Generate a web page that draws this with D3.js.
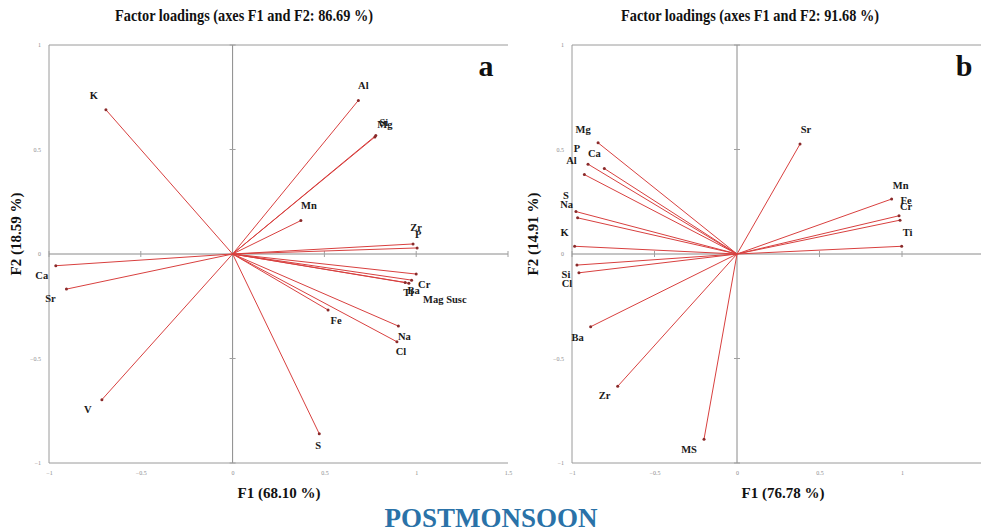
<!DOCTYPE html>
<html>
<head>
<meta charset="utf-8">
<script src="https://cdn.jsdelivr.net/npm/d3@7/dist/d3.min.js"></script>
<style>
  html, body { margin: 0; padding: 0; background: #fff; }
  svg { display: block; }
  text { font-family: "Liberation Serif", "Times New Roman", serif; }
</style>
</head>
<body>
<svg id="chart" width="981" height="532"></svg>
<script>
// ---- Data: loadings on F1 / F2 ----
const varsA = ["K", "Al", "Si", "Mg", "Mn", "Zr", "P", "Cr", "Ba", "Ti", "Mag Susc", "Fe", "Na", "Cl", "S", "Ca", "Sr", "V"];
const f1A = [-0.69, 0.685, 0.78, 0.775, 0.372, 0.983, 1.005, 1.0, 0.975, 0.94, 0.96, 0.52, 0.903, 0.895, 0.472, -0.963, -0.905, -0.712];
const f2A = [0.69, 0.735, 0.567, 0.56, 0.16, 0.048, 0.029, -0.096, -0.125, -0.136, -0.14, -0.268, -0.345, -0.42, -0.86, -0.056, -0.168, -0.697];

const varsB = ["Mg", "Ca", "P", "Al", "S", "Na", "K", "Si", "Cl", "Ba", "Zr", "MS", "Sr", "Mn", "Fe", "Cr", "Ti"];
const f1B = [-0.842, -0.804, -0.903, -0.925, -0.976, -0.966, -0.984, -0.97, -0.958, -0.887, -0.723, -0.2, 0.382, 0.937, 0.982, 0.988, 0.998];
const f2B = [0.532, 0.409, 0.43, 0.38, 0.203, 0.173, 0.037, -0.053, -0.09, -0.348, -0.633, -0.886, 0.526, 0.263, 0.183, 0.162, 0.037];

const xTicks = [-1, -0.5, 0, 0.5, 1, 1.5];
const yTicks = [-1, -0.5, 0, 0.5, 1];

const titleA = "Factor loadings (axes F1 and F2: 86.69 %)";
const titleB = "Factor loadings (axes F1 and F2: 91.68 %)";
const xTitleA = "F1 (68.10 %)", yTitleA = "F2 (18.59 %)";
const xTitleB = "F1 (76.78 %)", yTitleB = "F2 (14.91 %)";
const season = "POSTMONSOON";

// ---- Label offsets (pixels from the arrow tip) ----
const offA = {
  "K": [-12, -14], "Al": [5, -15], "Si": [8, -13], "Mg": [10, -12], "Mn": [8, -15],
  "Zr": [3, -16], "P": [1, -13], "Cr": [8, 10], "Ba": [2, 10], "Ti": [3, 10],
  "Mag Susc": [36, 16], "Fe": [8, 10], "Na": [6, 10], "Cl": [4, 10], "S": [-1, 12],
  "Ca": [-14, 10], "Sr": [-16, 9], "V": [-14, 10]
};
const offB = {
  "Mg": [-15, -13], "Ca": [-10, -15], "P": [-11, -16], "Al": [-13, -14], "S": [-10, -16],
  "Na": [-11, -13], "K": [-10, -14], "Si": [-11, 9], "Cl": [-12, 11], "Ba": [-13, 11],
  "Zr": [-13, 9], "MS": [-15, 10], "Sr": [6, -15], "Mn": [9, -14], "Fe": [7, -15],
  "Cr": [6, -14], "Ti": [6, -14]
};

const svg = d3.select("#chart");
const frameColor = "#9a9a9a";
const lineColor = "#d8403f";

function drawPanel(cfg) {
  const x = d3.scaleLinear().domain([-1, 1.5]).range([cfg.left, cfg.right]);
  const y = d3.scaleLinear().domain([-1, 1]).range([cfg.bottom, cfg.top]);
  const g = svg.append("g");

  // frame: top, left and bottom edges
  g.append("path")
    .attr("d", `M${x(1.5)},${y(1)}H${x(-1)}V${y(-1)}H${x(1.5)}`)
    .attr("fill", "none").attr("stroke", frameColor).attr("stroke-width", 1);

  // zero axes
  g.append("line").attr("x1", x(-1)).attr("x2", x(1.5)).attr("y1", y(0)).attr("y2", y(0))
    .attr("stroke", "#8a8a8a").attr("stroke-width", 1);
  g.append("line").attr("x1", x(0)).attr("x2", x(0)).attr("y1", y(1)).attr("y2", y(-1))
    .attr("stroke", "#8a8a8a").attr("stroke-width", 1);

  // small ticks on the zero axes
  g.selectAll(".tx").data(xTicks.filter(v => v !== 0)).join("line")
    .attr("x1", d => x(d)).attr("x2", d => x(d)).attr("y1", y(0) - 3).attr("y2", y(0) + 3)
    .attr("stroke", "#a0a0a0");
  g.selectAll(".ty").data(yTicks.filter(v => v !== 0)).join("line")
    .attr("y1", d => y(d)).attr("y2", d => y(d)).attr("x1", x(0) - 3).attr("x2", x(0) + 3)
    .attr("stroke", "#a0a0a0");

  // tick labels via axes
  const xAxis = d3.axisBottom(x).tickValues(xTicks).tickSize(0).tickPadding(8)
    .tickFormat(d3.format("~g"));
  const gx = g.append("g").attr("transform", `translate(0,${y(-1)})`).call(xAxis);
  const yAxis = d3.axisLeft(y).tickValues(yTicks).tickSize(0).tickPadding(8)
    .tickFormat(d3.format("~g"));
  const gy = g.append("g").attr("transform", `translate(${x(-1)},0)`).call(yAxis);
  [gx, gy].forEach(a => {
    a.select(".domain").remove();
    a.selectAll("text").attr("font-size", 6).attr("fill", "#8c8c8c")
      .attr("font-family", "Liberation Serif, serif");
  });

  // loading vectors
  const data = cfg.vars.map((v, i) => ({ name: v, f1: cfg.f1[i], f2: cfg.f2[i] }));
  g.selectAll(".vec").data(data).join("line")
    .attr("x1", x(0)).attr("y1", y(0))
    .attr("x2", d => x(d.f1)).attr("y2", d => y(d.f2))
    .attr("stroke", lineColor).attr("stroke-width", 1);
  g.selectAll(".tip").data(data).join("circle")
    .attr("cx", d => x(d.f1)).attr("cy", d => y(d.f2)).attr("r", 1.5)
    .attr("fill", "#8a2a2a");
  g.selectAll(".lab").data(data).join("text")
    .attr("x", d => x(d.f1) + cfg.off[d.name][0])
    .attr("y", d => y(d.f2) + cfg.off[d.name][1])
    .attr("text-anchor", "middle").attr("dominant-baseline", "central")
    .attr("font-size", 10.5).attr("font-weight", "bold").attr("fill", "#1a1a1a")
    .text(d => d.name);

  // titles (the heading face is tall and narrow)
  g.append("text").attr("x", cfg.titleX).attr("y", 21).attr("text-anchor", "middle")
    .attr("font-size", 16).attr("font-weight", "bold").attr("fill", "#111")
    .attr("textLength", 258).attr("lengthAdjust", "spacingAndGlyphs")
    .text(cfg.title);
  g.append("text").attr("x", cfg.xTitleX).attr("y", 498).attr("text-anchor", "middle")
    .attr("font-size", 15).attr("font-weight", "bold").attr("fill", "#111")
    .text(cfg.xTitle);
  g.append("text")
    .attr("transform", `translate(${cfg.yTitleX},${y(0) - 20}) rotate(-90)`)
    .attr("text-anchor", "middle")
    .attr("font-size", 15).attr("font-weight", "bold").attr("fill", "#111")
    .text(cfg.yTitle);
  g.append("text").attr("x", cfg.tagX).attr("y", 76).attr("text-anchor", "middle")
    .attr("font-size", 30).attr("font-weight", "bold").attr("fill", "#111")
    .text(cfg.tag);
}

drawPanel({
  left: 49, right: 508, top: 45, bottom: 463,
  vars: varsA, f1: f1A, f2: f2A, off: offA,
  title: titleA, titleX: 244, xTitle: xTitleA, xTitleX: 279,
  yTitle: yTitleA, yTitleX: 21, tag: "a", tagX: 486
});
drawPanel({
  left: 572, right: 984.5, top: 45, bottom: 463,
  vars: varsB, f1: f1B, f2: f2B, off: offB,
  title: titleB, titleX: 750, xTitle: xTitleB, xTitleX: 783,
  yTitle: yTitleB, yTitleX: 538, tag: "b", tagX: 964
});

svg.append("text").attr("x", 491).attr("y", 527).attr("text-anchor", "middle")
  .attr("font-size", 27).attr("font-weight", "bold").attr("fill", "#2a72a8")
  .text(season);
</script>
</body>
</html>
